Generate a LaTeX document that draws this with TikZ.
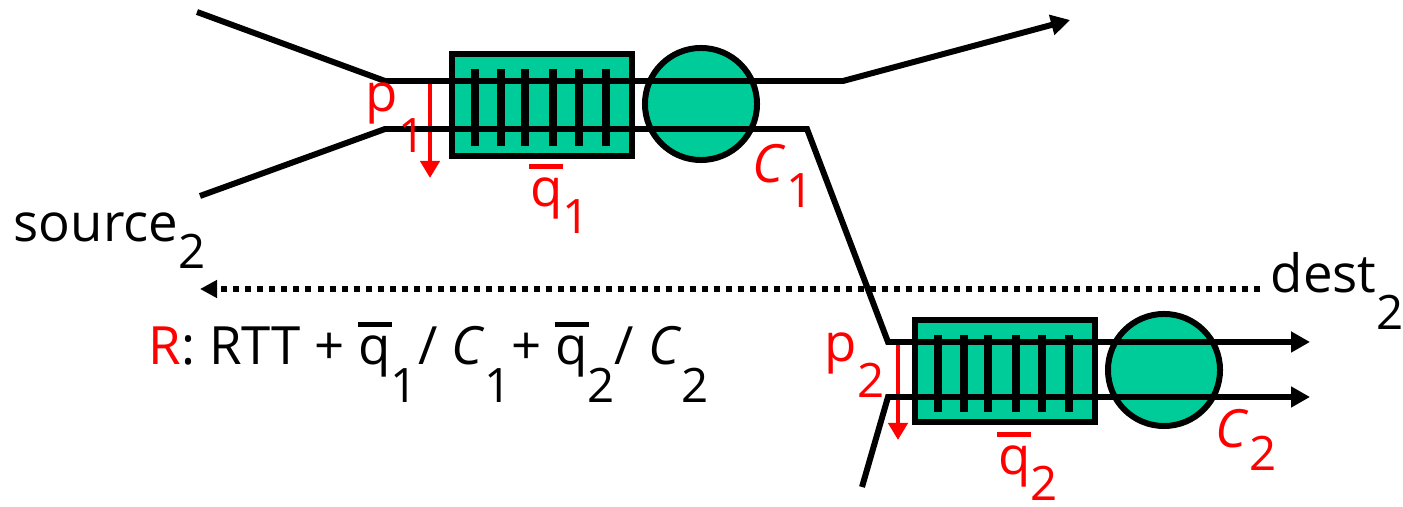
\documentclass[tikz,border=0pt]{standalone}
\usepackage{fontspec}
\setmainfont{Open Sans}
\usetikzlibrary{arrows.meta,calc}
\definecolor{QueueTeal}{HTML}{00CC99}
\definecolor{FlowRed}{HTML}{FF0000}
\newcommand{\lowsub}[2][0.3cm]{\raisebox{-#1}{\fontsize{13.5}{16}\selectfont#2}}
\newcommand{\qbar}{\makebox[0pt][l]{\hspace{-0.01cm}\raisebox{0.38cm}{\rule{0.34cm}{0.05cm}}}q}

\begin{document}
\begin{tikzpicture}[
  x=0.01cm, y=-0.01cm,
  font=\fontsize{15}{18}\selectfont,
  queue/.style={draw=black, line width=1.7pt, fill=QueueTeal,
    minimum width=1.8cm, minimum height=1.01cm, inner sep=0pt},
  link/.style={circle, draw=black, line width=1.7pt, fill=QueueTeal,
    minimum size=1.12cm, inner sep=0pt},
  slot/.style={line width=2pt},
  flow/.style={line width=1.7pt},
  flowarr/.style={flow, -{Triangle[length=0.19cm, width=0.2cm]}},
  prob/.style={line width=1.4pt, draw=FlowRed, -{Triangle[length=0.17cm, width=0.19cm]}},
  feedback/.style={line width=1.8pt, dash pattern=on 0.06cm off 0.06cm,
    -{Triangle[length=0.17cm, width=0.17cm]}},
  redlbl/.style={inner sep=0pt, text=FlowRed},
  txt/.style={inner sep=0pt}
]
\useasboundingbox (0,0) rectangle (1403,507);

% queues and links
\node[queue] (queue1) at (542,105) {};
\node[link] (link1) at (701,104) {};
\node[queue] (queue2) at (1005,371) {};
\node[link] (link2) at (1164,370) {};
\foreach \q in {queue1,queue2}
  \foreach \dx in {-67,-41,-17,11,37,64}
    \draw[slot] ($(\q.center)+(\dx,-36)$) -- ($(\q.center)+(\dx,41)$);

% drop probabilities
\coordinate (p1top) at (430,81);
\coordinate (p1tip) at (430,178);
\coordinate (p2top) at (898,342);
\coordinate (p2tip) at (898,440);
\draw[prob] (p1top) -- (p1tip);
\draw[prob] (p2top) -- (p2tip);

% flows
\coordinate (in1) at (197,12);
\coordinate (bend1) at (385,81);
\coordinate (bend2) at (843,81);
\coordinate (out1) at (1070,20);
\draw[flowarr] (in1) -- (bend1) -- (bend2) -- (out1);

\coordinate (in2) at (200,196);
\coordinate (bend3) at (385,129);
\coordinate (bend4) at (807,129);
\coordinate (bend5) at (888,342);
\coordinate (out2) at (1310,342);
\draw[flowarr] (in2) -- (bend3) -- (bend4) -- (bend5) -- (out2);

\coordinate (in3) at (862,487);
\coordinate (bend6) at (888,397);
\coordinate (out3) at (1310,397);
\draw[flowarr] (in3) -- (bend6) -- (out3);

% labels
\node[redlbl, anchor=base east] (p1) at (426,112) {p\lowsub[0.4cm]{1}};
\node[redlbl, anchor=base] (qlbl1) at (560,207) {\qbar\lowsub[0.26cm]{1}};
\node[redlbl, anchor=base west] (clbl1) at (752,183) {\textit{C}\lowsub[0.24cm]{1}};
\node[redlbl, anchor=base east] (p2) at (885,362) {p\lowsub[0.35cm]{2}};
\node[redlbl, anchor=base] (qlbl2) at (1028,475) {\qbar\lowsub[0.25cm]{2}};
\node[redlbl, anchor=base west] (clbl2) at (1215,448) {\textit{C}\lowsub[0.22cm]{2}};

\node[txt, anchor=base west] (src) at (13,242) {source\lowsub[0.26cm]{2}};
\node[txt, anchor=base west] (dst) at (1270,293) {dest\lowsub[0.36cm]{2}};
\node[txt, anchor=base west] (rtt) at (148,365)
  {\textcolor{FlowRed}{R}: RTT + \qbar\lowsub[0.37cm]{1}/ \textit{C}\lowsub[0.37cm]{1}+ \qbar\lowsub[0.37cm]{2}/ \textit{C}\lowsub[0.37cm]{2}};

% feedback
\coordinate (fbstart) at (1260,289);
\coordinate (fbend) at (200,289);
\draw[feedback] (fbstart) -- (fbend);
\end{tikzpicture}
\end{document}
